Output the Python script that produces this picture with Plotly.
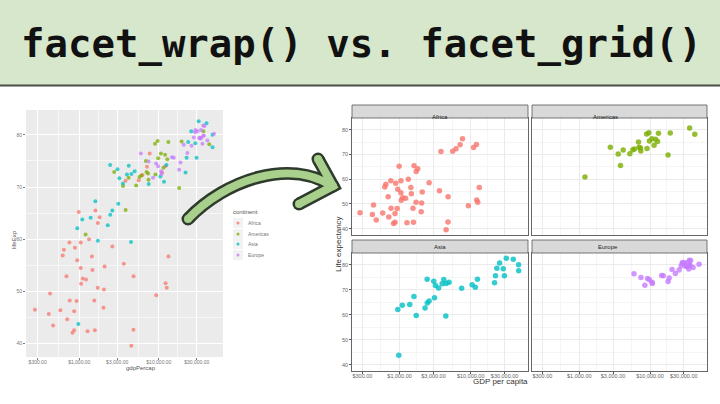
import plotly.graph_objects as go

# ---------------- data (gapminder 2007) ----------------
continents = ["Africa", "Americas", "Asia", "Europe"]
colors = ["#F8766D", "#7CAE00", "#00BFC4", "#C77CFF"]

africa_gdp = [6223.4, 4797.2, 1441.3, 12569.9, 1217.0, 430.1, 2042.1, 706.0, 1704.1, 986.1,
              277.6, 3632.6, 1544.8, 2082.5, 5581.2, 12154.1, 641.4, 690.8, 13206.5, 752.7,
              1327.6, 942.7, 579.2, 1463.2, 1569.3, 414.5, 12057.5, 1044.8, 759.3, 1042.6,
              1803.2, 10957.0, 3820.2, 823.7, 4811.1, 619.7, 2014.0, 7670.1, 863.1, 1598.4,
              1712.5, 862.5, 926.1, 9269.7, 2602.4, 4513.5, 1107.5, 883.0, 7092.9, 1056.4,
              1271.2, 469.7]
africa_life = [72.3, 42.7, 56.7, 50.7, 52.3, 49.6, 50.4, 44.7, 50.7, 65.2,
               46.5, 55.3, 48.3, 54.8, 71.3, 51.6, 58.0, 52.9, 56.7, 59.4,
               60.0, 56.0, 46.4, 54.1, 42.6, 45.7, 74.0, 59.4, 48.3, 54.5,
               64.2, 72.8, 71.2, 42.1, 52.9, 56.9, 46.9, 76.4, 46.2, 65.5,
               63.1, 42.6, 48.2, 49.3, 58.6, 39.6, 52.5, 58.4, 73.9, 51.5,
               42.4, 43.5]

americas_gdp = [12779.4, 3822.1, 9065.8, 36319.2, 13171.6, 7006.6, 9645.1, 8948.1, 6025.4, 6873.3,
                5728.4, 5186.1, 1201.6, 3548.3, 7320.9, 11977.6, 2749.3, 9809.2, 4172.8, 7408.9,
                19328.7, 18008.5, 42951.7, 10611.5, 11415.8]
americas_life = [75.3, 65.6, 72.4, 80.7, 78.6, 72.9, 78.8, 78.3, 72.2, 75.0,
                 71.9, 70.3, 60.9, 70.2, 72.6, 76.2, 72.9, 75.5, 71.8, 71.4,
                 78.7, 69.8, 78.2, 76.4, 73.7]

asia_gdp = [974.6, 29796.0, 1391.3, 1713.8, 4959.1, 39725.0, 2452.2, 3540.7, 11605.7, 4471.1,
            25523.3, 31656.1, 4519.5, 1593.1, 23348.1, 47307.0, 10461.1, 12451.7, 3095.8, 944.0,
            1091.4, 22316.2, 2605.9, 3190.5, 21654.8, 47143.2, 3970.1, 4184.5, 28718.3, 7458.4,
            2441.6, 3025.4, 2280.8]
asia_life = [43.8, 75.6, 64.1, 59.7, 73.0, 82.2, 64.7, 70.7, 71.0, 59.5,
             80.7, 82.6, 72.5, 67.3, 78.6, 77.6, 72.0, 74.2, 66.8, 62.1,
             63.8, 75.6, 65.5, 71.7, 72.8, 80.0, 72.4, 74.1, 78.4, 70.6,
             74.2, 73.4, 62.7]

europe_gdp = [5937.0, 36126.5, 33692.6, 7446.3, 10680.8, 14619.2, 22833.3, 35278.4, 33207.1, 30470.0,
              32170.4, 27538.4, 18008.9, 36180.8, 40676.0, 28569.7, 9253.9, 36797.9, 49357.2, 15389.9,
              20509.6, 10808.5, 9786.5, 18678.3, 25768.3, 28821.1, 33859.7, 37506.4, 8458.3, 33203.3]
europe_life = [76.4, 79.8, 79.4, 74.9, 73.0, 75.7, 76.5, 78.3, 79.3, 80.7,
               79.4, 79.5, 73.3, 81.8, 78.9, 80.5, 74.5, 79.8, 80.2, 75.6,
               78.1, 72.5, 74.0, 74.7, 77.9, 80.9, 80.9, 81.7, 71.8, 79.4]

gdp_series = [africa_gdp, americas_gdp, asia_gdp, europe_gdp]
life_series = [africa_life, americas_life, asia_life, europe_life]

x_tickvals = [300, 1000, 3000, 10000, 30000]
x_ticktext = ["$300.00", "$1,000.00", "$3,000.00", "$10,000.00", "$30,000.00"]
x_minor = [547.7, 1732.1, 5477.2, 17320.5]
y_tickvals = [40, 50, 60, 70, 80]
y_minor = [45, 55, 65, 75, 85]

title_text = "facet_wrap() vs. facet_grid()"

# ---------------- layout helpers ----------------
W, H = 720, 404
def px(x):
    return x / W
def py(y):
    return 1 - y / H
def pt(x, y):
    return f"{px(x):.5f},{py(y):.5f}"

XR = [2.331, 4.806]
YR = [37.46, 84.75]

fig = go.Figure()

# left plot (single panel, coloured by continent)
for name, col, gx, ly in zip(continents, colors, gdp_series, life_series):
    fig.add_trace(go.Scatter(x=gx, y=ly, mode="markers", xaxis="x", yaxis="y",
                             marker=dict(color=col, size=4, opacity=0.75),
                             showlegend=False, name=name))

# right plot facets
facet_axes = [("x2", "y2"), ("x3", "y3"), ("x4", "y4"), ("x5", "y5")]
for (xa, ya), name, col, gx, ly in zip(facet_axes, continents, colors, gdp_series, life_series):
    fig.add_trace(go.Scatter(x=gx, y=ly, mode="markers", xaxis=xa, yaxis=ya,
                             marker=dict(color=col, size=5.5, opacity=0.8),
                             showlegend=False, name=name))

tick_font_l = dict(family="Liberation Sans", size=5, color="#777")
tick_font_r = dict(family="Liberation Sans", size=5.5, color="#666")

layout = dict(
    width=W, height=H, margin=dict(l=0, r=0, t=0, b=0),
    paper_bgcolor="white", plot_bgcolor="white", showlegend=False,
    xaxis=dict(domain=[px(26), px(223)], type="log", range=XR, tickvals=x_tickvals,
               ticktext=x_ticktext, showgrid=True, gridcolor="white", gridwidth=1,
               minor=dict(tickvals=x_minor, showgrid=True, gridcolor="#f7f7f7", gridwidth=0.5),
               ticks="outside", ticklen=2, tickcolor="#777", tickfont=tick_font_l,
               ticklabelstandoff=-2,
               zeroline=False, showline=False, anchor="y"),
    yaxis=dict(domain=[py(357), py(110)], range=YR, tickvals=y_tickvals,
               showgrid=True, gridcolor="white", gridwidth=1,
               minor=dict(tickvals=y_minor, showgrid=True, gridcolor="#f7f7f7", gridwidth=0.5),
               ticks="outside", ticklen=2, tickcolor="#777", tickfont=tick_font_l,
               zeroline=False, showline=False, anchor="x"),
)

col_x = [(352, 528), (532, 707)]
row_y = [(118, 235), (253, 371)]
strip_y = [(105, 118), (240, 253)]
for i, (xa, ya) in enumerate(facet_axes):
    r, c = divmod(i, 2)
    xk = "xaxis" + xa[1:]
    yk = "yaxis" + ya[1:]
    layout[xk] = dict(domain=[px(col_x[c][0]), px(col_x[c][1])], type="log", range=XR,
                      tickvals=x_tickvals, ticktext=x_ticktext,
                      showticklabels=(r == 1), ticks="outside" if r == 1 else "",
                      ticklen=2, tickcolor="#555", tickfont=tick_font_r,
                      ticklabelstandoff=-3,
                      showgrid=True, gridcolor="#ebebeb", gridwidth=0.8,
                      minor=dict(tickvals=x_minor, showgrid=True, gridcolor="#f5f5f5", gridwidth=0.5),
                      showline=True, mirror=True, linecolor="#666", linewidth=0.8,
                      zeroline=False, anchor=ya)
    layout[yk] = dict(domain=[py(row_y[r][1]), py(row_y[r][0])], range=YR,
                      tickvals=y_tickvals, showticklabels=(c == 0),
                      ticks="outside" if c == 0 else "", ticklen=2, tickcolor="#555",
                      tickfont=tick_font_r,
                      showgrid=True, gridcolor="#ebebeb", gridwidth=0.8,
                      minor=dict(tickvals=y_minor, showgrid=True, gridcolor="#f5f5f5", gridwidth=0.5),
                      showline=True, mirror=True, linecolor="#666", linewidth=0.8,
                      zeroline=False, anchor=xa)

fig.update_layout(**layout)

shapes = []
annotations = []

# banner
shapes.append(dict(type="rect", xref="paper", yref="paper", x0=0, x1=1, y0=py(85), y1=1,
                   fillcolor="#d7e7cb", line=dict(width=0), layer="below"))
shapes.append(dict(type="line", xref="paper", yref="paper", x0=0, x1=1, y0=py(85.5), y1=py(85.5),
                   line=dict(color="#4a4f48", width=2)))
annotations.append(dict(text=title_text, xref="paper", yref="paper", x=px(361), y=py(44),
                        xanchor="center", yanchor="middle", showarrow=False,
                        font=dict(family="DejaVu Sans Mono", size=39, color="#111", weight="bold")))

# left panel grey background
shapes.append(dict(type="rect", xref="x domain", yref="y domain", x0=0, x1=1, y0=0, y1=1,
                   fillcolor="#ebebeb", line=dict(width=0), layer="below"))

# left plot axis titles
annotations.append(dict(text="gdpPercap", xref="paper", yref="paper", x=px(124), y=py(373),
                        showarrow=False, font=dict(family="Liberation Sans", size=6, color="#555")))
annotations.append(dict(text="lifeExp", xref="paper", yref="paper", x=px(9), y=py(240),
                        textangle=-90, showarrow=False,
                        font=dict(family="Liberation Sans", size=6, color="#555")))

# left legend (manual)
annotations.append(dict(text="continent", xref="paper", yref="paper", x=px(231), y=py(212),
                        xanchor="left", showarrow=False,
                        font=dict(family="Liberation Sans", size=6, color="#555")))
leg_y = [223, 234, 244, 255]
for name, col, yy in zip(continents, colors, leg_y):
    shapes.append(dict(type="rect", xref="paper", yref="paper", x0=px(233), x1=px(243),
                       y0=py(yy + 5), y1=py(yy - 5), fillcolor="#f2f2f2", line=dict(width=0)))
    shapes.append(dict(type="circle", xref="paper", yref="paper", x0=px(236.5), x1=px(239.5),
                       y0=py(yy + 1.5), y1=py(yy - 1.5), fillcolor=col, line=dict(width=0),
                       opacity=0.8))
    annotations.append(dict(text=name, xref="paper", yref="paper", x=px(246), y=py(yy),
                            xanchor="left", showarrow=False,
                            font=dict(family="Liberation Sans", size=5, color="#777")))

# facet strips
for i in range(4):
    r, c = divmod(i, 2)
    shapes.append(dict(type="rect", xref="paper", yref="paper",
                       x0=px(col_x[c][0]), x1=px(col_x[c][1]),
                       y0=py(strip_y[r][1]), y1=py(strip_y[r][0]),
                       fillcolor="#d9d9d9", line=dict(color="#555", width=0.8)))
    annotations.append(dict(text=continents[i], xref="paper", yref="paper",
                            x=px((col_x[c][0] + col_x[c][1]) / 2),
                            y=py((strip_y[r][0] + strip_y[r][1]) / 2),
                            showarrow=False,
                            font=dict(family="Liberation Sans", size=6, color="#222")))

# right plot axis titles
annotations.append(dict(text="GDP per capita", xref="paper", yref="paper", x=px(530), y=py(388),
                        showarrow=False, font=dict(family="Liberation Sans", size=8, color="#333")))
annotations.append(dict(text="Life expectancy", xref="paper", yref="paper", x=px(338), y=py(244),
                        textangle=-90, showarrow=False,
                        font=dict(family="Liberation Sans", size=8, color="#333")))

# curved arrow (decoration)
shaft = f"M {pt(188,219)} C {pt(225,180)} {pt(290,158)} {pt(332,186)}"
head = f"M {pt(318,159)} L {pt(333,186)} L {pt(299,204)}"
ends = [(188, 219), (318, 159), (299, 204), (333, 186)]
dark = "#2e3a2b"
green = "#a8cf8c"
for p in (shaft, head):
    shapes.append(dict(type="path", path=p, xref="paper", yref="paper",
                       line=dict(color=dark, width=13)))
for (ex, ey) in ends:
    shapes.append(dict(type="circle", xref="paper", yref="paper", x0=px(ex - 6.5), x1=px(ex + 6.5),
                       y0=py(ey + 6.5), y1=py(ey - 6.5), fillcolor=dark, line=dict(width=0)))
for p in (shaft, head):
    shapes.append(dict(type="path", path=p, xref="paper", yref="paper",
                       line=dict(color=green, width=8)))
for (ex, ey) in ends:
    shapes.append(dict(type="circle", xref="paper", yref="paper", x0=px(ex - 4), x1=px(ex + 4),
                       y0=py(ey + 4), y1=py(ey - 4), fillcolor=green, line=dict(width=0)))

fig.update_layout(shapes=shapes, annotations=annotations)
fig.write_html("out.html")
